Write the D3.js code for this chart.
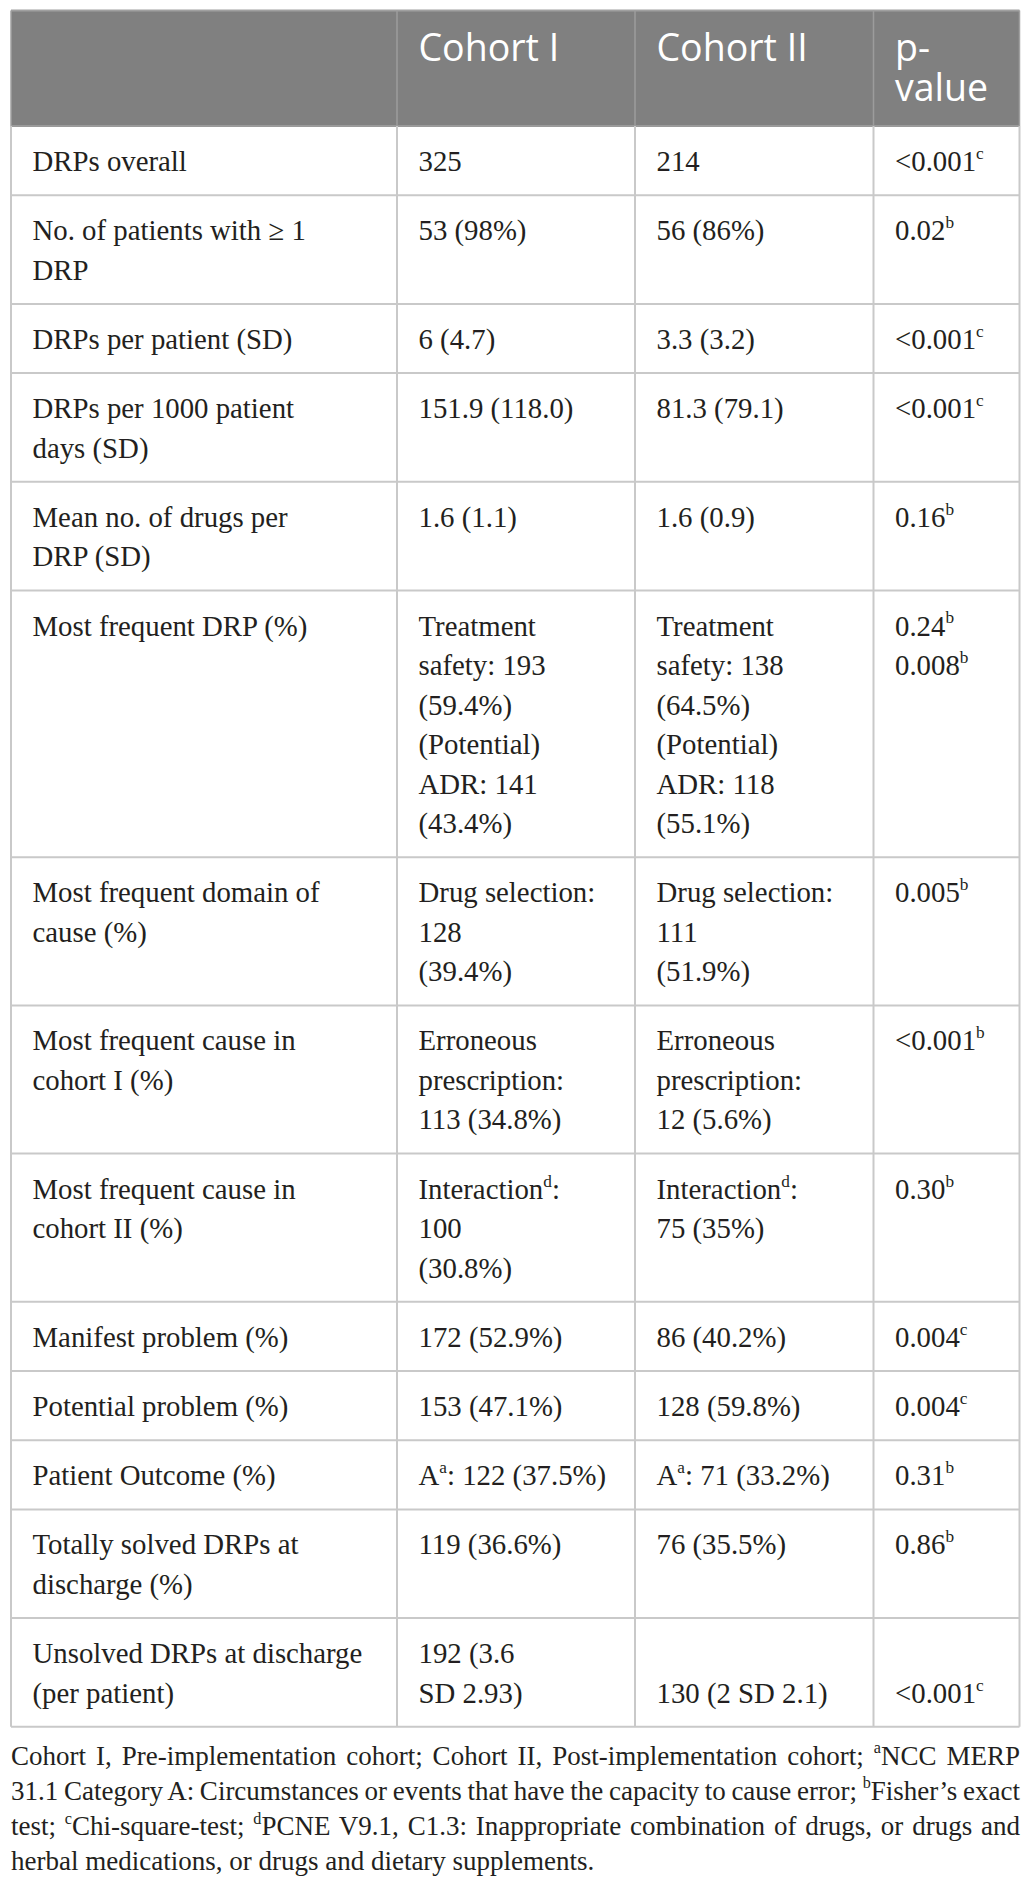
<!DOCTYPE html>
<html><head><meta charset="utf-8">
<script src="https://cdn.jsdelivr.net/npm/d3@7"></script>
<style>html,body{margin:0;padding:0;background:#fff}svg{display:block}</style>
</head><body><div id="chart"></div>
<script>
// ---------- data ----------
const columnHeaders = [[""], ["Cohort I"], ["Cohort II"], ["p-", "value"]];
const rowLabels = [
  ["DRPs overall"],
  ["No. of patients with ≥ 1", "DRP"],
  ["DRPs per patient (SD)"],
  ["DRPs per 1000 patient", "days (SD)"],
  ["Mean no. of drugs per", "DRP (SD)"],
  ["Most frequent DRP (%)"],
  ["Most frequent domain of", "cause (%)"],
  ["Most frequent cause in", "cohort I (%)"],
  ["Most frequent cause in", "cohort II (%)"],
  ["Manifest problem (%)"],
  ["Potential problem (%)"],
  ["Patient Outcome (%)"],
  ["Totally solved DRPs at", "discharge (%)"],
  ["Unsolved DRPs at discharge", "(per patient)"]
];
const cohortI = [
  ["325"], ["53 (98%)"], ["6 (4.7)"], ["151.9 (118.0)"], ["1.6 (1.1)"],
  ["Treatment", "safety: 193", "(59.4%)", "(Potential)", "ADR: 141", "(43.4%)"],
  ["Drug selection:", "128", "(39.4%)"],
  ["Erroneous", "prescription:", "113 (34.8%)"],
  ["Interaction^d:", "100", "(30.8%)"],
  ["172 (52.9%)"], ["153 (47.1%)"], ["A^a: 122 (37.5%)"], ["119 (36.6%)"],
  ["192 (3.6", "SD 2.93)"]
];
const cohortII = [
  ["214"], ["56 (86%)"], ["3.3 (3.2)"], ["81.3 (79.1)"], ["1.6 (0.9)"],
  ["Treatment", "safety: 138", "(64.5%)", "(Potential)", "ADR: 118", "(55.1%)"],
  ["Drug selection:", "111", "(51.9%)"],
  ["Erroneous", "prescription:", "12 (5.6%)"],
  ["Interaction^d:", "75 (35%)"],
  ["86 (40.2%)"], ["128 (59.8%)"], ["A^a: 71 (33.2%)"], ["76 (35.5%)"],
  ["", "130 (2 SD 2.1)"]
];
const pValues = [
  ["<0.001^c"], ["0.02^b"], ["<0.001^c"], ["<0.001^c"], ["0.16^b"],
  ["0.24^b", "0.008^b"], ["0.005^b"], ["<0.001^b"], ["0.30^b"],
  ["0.004^c"], ["0.004^c"], ["0.31^b"], ["0.86^b"], ["", "<0.001^c"]
];
const footnoteLines = [
  "Cohort I, Pre-implementation cohort; Cohort II, Post-implementation cohort; ^aNCC MERP",
  "31.1 Category A: Circumstances or events that have the capacity to cause error; ^bFisher’s exact",
  "test; ^cChi-square-test; ^dPCNE V9.1, C1.3: Inappropriate combination of drugs, or drugs and",
  "herbal medications, or drugs and dietary supplements."
];

// ---------- layout ----------
const W = 1025, H = 1887;
const colEdges = [11, 397, 635, 873.5, 1019.5];
const headerTop = 10.5, headerBottom = 126;
const rowBase = 69.2, lineStep = 39.5, firstBaseline = 45, padX = 21.5;
const bodyFont = "'Liberation Serif','Times New Roman',serif";
const headFont = "'Open Sans','Noto Sans',sans-serif";
const bodySize = 28.8, headSize = 37.5, noteSize = 27;
const gridColor = "#c9c9c9", headerFill = "#808080", textColor = "#231f20";

const columns = [rowLabels, cohortI, cohortII, pValues];
const lineCounts = rowLabels.map((_, i) => d3.max(columns, c => c[i].length));
const heights = lineCounts.map(n => rowBase + lineStep * (n - 1));
const tops = [headerBottom, ...d3.cumsum(heights).map(v => v + headerBottom)];
const tableBottom = tops[tops.length - 1];

const x = d3.scaleOrdinal().domain([0, 1, 2, 3, 4]).range(colEdges);
const yRow = d3.scaleOrdinal().domain(d3.range(tops.length)).range(tops);

const svg = d3.select("#chart").append("svg").attr("width", W).attr("height", H)
  .style("background", "#fff");

function rich(sel, str, size) {
  const parts = str.split(/\^([a-z])/);
  let raised = false;
  parts.forEach((p, i) => {
    if (i % 2 === 1) {
      sel.append("tspan").attr("font-size", size * 0.6).attr("dy", -size * 0.42).text(p);
      raised = true;
    } else if (p) {
      const t = sel.append("tspan").text(p);
      if (raised) { t.attr("dy", size * 0.42); raised = false; }
    }
  });
}

// header
svg.append("rect").attr("x", x(0)).attr("y", headerTop)
  .attr("width", x(4) - x(0)).attr("height", headerBottom - headerTop)
  .attr("fill", headerFill);

// header text
columnHeaders.forEach((lines, c) => {
  lines.forEach((ln, k) => {
    if (!ln) return;
    svg.append("text").attr("x", x(c) + padX).attr("y", 61 + k * 40)
      .attr("font-family", headFont).attr("font-size", headSize)
      .attr("fill", "#fff").text(ln);
  });
});

// body cells
const g = svg.append("g").attr("font-family", bodyFont).attr("font-size", bodySize).attr("fill", textColor);
columns.forEach((col, c) => {
  col.forEach((lines, r) => {
    lines.forEach((ln, k) => {
      if (!ln) return;
      const t = g.append("text").attr("x", x(c) + padX)
        .attr("y", yRow(r) + firstBaseline + k * lineStep);
      rich(t, ln, bodySize);
    });
  });
});

// grid lines
const grid = svg.append("g").attr("stroke", gridColor).attr("stroke-width", 2).attr("fill", "none");
tops.forEach((yy, i) => {
  grid.append("line").attr("x1", x(0)).attr("x2", x(4)).attr("y1", yy).attr("y2", yy)
    .attr("stroke", i === 0 ? "#9a9a9a" : gridColor);
});
grid.append("line").attr("x1", x(0)).attr("x2", x(4)).attr("y1", headerTop).attr("y2", headerTop).attr("stroke", "#a0a0a0");
[0, 1, 2, 3, 4].forEach(c => {
  grid.append("line").attr("x1", x(c)).attr("x2", x(c)).attr("y1", headerBottom).attr("y2", tableBottom);
  grid.append("line").attr("x1", x(c)).attr("x2", x(c)).attr("y1", headerTop).attr("y2", headerBottom)
    .attr("stroke", (c === 0 || c === 4) ? "#a0a0a0" : "#9c9c9c").attr("stroke-width", 1.5);
});

// footnote
const noteTop = 1764.5, noteStep = 35.2, noteLeft = 11, noteRight = 1020;
footnoteLines.forEach((ln, i) => {
  const t = svg.append("text").attr("x", noteLeft).attr("y", noteTop + i * noteStep)
    .attr("font-family", bodyFont).attr("font-size", noteSize).attr("fill", textColor);
  rich(t, ln, noteSize);
  if (i < footnoteLines.length - 1) {
    const len = t.node().getComputedTextLength();
    const spaces = (ln.match(/ /g) || []).length;
    if (spaces > 0) t.attr("word-spacing", (noteRight - noteLeft - len) / spaces);
  }
});
</script>
</body></html>
